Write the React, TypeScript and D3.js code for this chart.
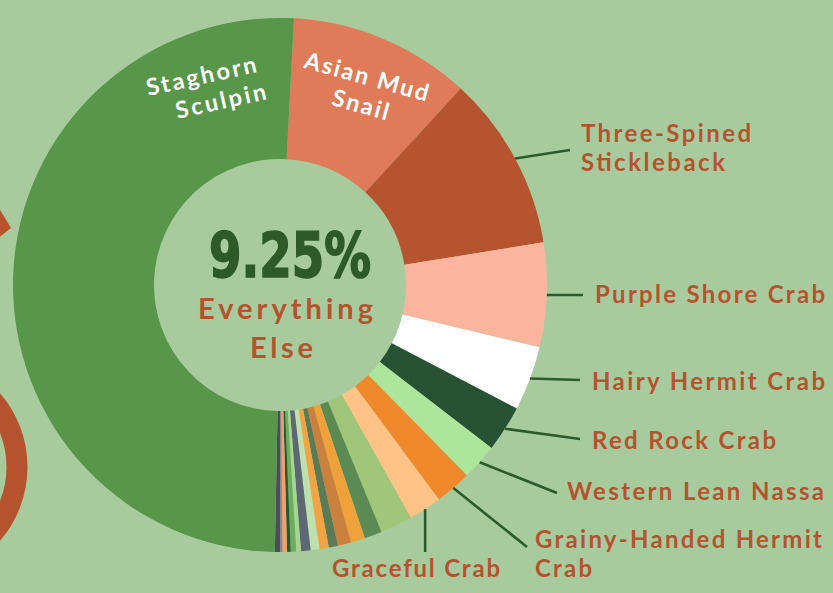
import React from "react";
import * as d3 from "d3";

// ---- data (percent of catch), clockwise from top ----
const species = [
  "Asian Mud Snail",
  "Three-Spined Stickleback",
  "Purple Shore Crab",
  "Hairy Hermit Crab",
  "Red Rock Crab",
  "Western Lean Nassa",
  "Grainy-Handed Hermit Crab",
  "Graceful Crab",
  "Other 1", "Other 2", "Other 3", "Other 4", "Other 5", "Other 6", "Other 7",
  "Other 8", "Other 9", "Other 10", "Other 11", "Other 12", "Other 13", "Other 14",
  "Staghorn Sculpin",
];
const shares = [
  11.0, 10.6, 6.3, 3.9, 2.8, 2.2, 2.2, 2.0,
  1.94, 1.06, 0.86, 0.8, 0.56, 0.56, 0.53, 0.58, 0.28, 0.33, 0.22, 0.28, 0.14, 0.31,
  50.5,
];
const colors = [
  "#e07b59", "#b5542f", "#fbb49d", "#ffffff", "#275234", "#ade59b", "#f0892b", "#ffc387",
  "#9fc679", "#5b8a52", "#efa23a", "#c9813d", "#5d7a57", "#f0a443", "#bde0ae", "#5d6874",
  "#a6d58f", "#6cae5e", "#275a30", "#f39e6b", "#8a8a8a", "#4d4b5c",
  "#58964a",
];

const centerValue = "9.25%";
const centerLines = ["Everything", "Else"];

// outer labels: which slice, text lines
const outerLabelSlices = [1, 2, 3, 4, 5, 6, 7];
const outerLabelLines = [
  ["Three-Spined", "Stickleback"],
  ["Purple Shore Crab"],
  ["Hairy Hermit Crab"],
  ["Red Rock Crab"],
  ["Western Lean Nassa"],
  ["Grainy-Handed Hermit", "Crab"],
  ["Graceful Crab"],
];
// inner labels
const innerLabelLines = [
  ["Staghorn", "Sculpin"],
  ["Asian Mud", "Snail"],
];

// ---- layout ----
const W = 833, H = 593;
const CX = 280, CY = 285, R = 267, RI = 126;
const START = (3 * Math.PI) / 180;
const BG = "#a8cb9d";
const RUST = "#b5532f";
const LINE = "#2b5a2c";

// leader end points and text anchors
const leaderEnds: [number, number][] = [
  [570, 150], [583, 295], [580, 380], [580, 439], [557, 493], [527, 547], [NaN, 552],
];
const textPos: { x: number; y: number; lens: number[] }[] = [
  { x: 581, y: 142, lens: [170, 144] },
  { x: 595, y: 303, lens: [230] },
  { x: 592, y: 390, lens: [233] },
  { x: 592, y: 449, lens: [184] },
  { x: 567, y: 500, lens: [257] },
  { x: 535, y: 548, lens: [287, 57] },
  { x: 332, y: 577, lens: [168] },
];
const innerPos = [
  { rot: -12.5, lines: [{ x: 203, y: 84, len: 112 }, { x: 222.5, y: 109, len: 92 }] },
  { rot: 15.5, lines: [{ x: 364.5, y: 84.5, len: 128 }, { x: 358.5, y: 112.5, len: 58 }] },
];

const LABEL_FONT = "Lato, 'Open Sans', sans-serif";

export default function App() {
  const pie = d3
    .pie<number>()
    .sort(null)
    .value((d) => d)
    .startAngle(START)
    .endAngle(START + 2 * Math.PI);
  const arcs = pie(shares);
  const arc = d3.arc<d3.PieArcDatum<number>>().innerRadius(RI).outerRadius(R);
  const rim = d3.arc<d3.PieArcDatum<number>>().innerRadius(R).outerRadius(R);

  return (
    <svg
      width={W}
      height={H}
      style={{ position: "absolute", left: 0, top: 0 }}
      xmlns="http://www.w3.org/2000/svg"
    >
      <rect x={0} y={0} width={W} height={H} fill={BG} />
      {/* decorative partial shapes at the left edge */}
      <polygon points="-4,203 11,228 -4,240" fill={RUST} />
      <circle cx={-85} cy={467} r={102} fill="none" stroke={RUST} strokeWidth={21} />

      <g transform={`translate(${CX},${CY})`}>
        {arcs.map((a, i) => (
          <path key={species[i]} d={arc(a) || ""} fill={colors[i]} />
        ))}
      </g>

      {/* leader lines */}
      {outerLabelSlices.map((si, k) => {
        const [sx, sy] = rim.centroid(arcs[si]);
        const x1 = CX + sx, y1 = CY + sy;
        const e = leaderEnds[k];
        const x2 = isNaN(e[0]) ? x1 : e[0];
        return (
          <line key={"l" + k} x1={x1} y1={y1} x2={x2} y2={e[1]} stroke={LINE} strokeWidth={2.6} />
        );
      })}

      {/* outer labels */}
      {outerLabelLines.map((lines, k) => (
        <g key={"t" + k}>
          {lines.map((ln, j) => (
            <text
              key={j}
              x={textPos[k].x}
              y={textPos[k].y + j * 29}
              fill={RUST}
              fontFamily={LABEL_FONT}
              fontWeight={700}
              fontSize={24}
              textLength={textPos[k].lens[j]}
              lengthAdjust="spacing"
            >
              {ln}
            </text>
          ))}
        </g>
      ))}

      {/* inner labels */}
      {innerLabelLines.map((lines, k) => (
        <g key={"i" + k}>
          {lines.map((ln, j) => {
            const p = innerPos[k].lines[j];
            return (
              <text
                key={j}
                x={p.x}
                y={p.y}
                transform={`rotate(${innerPos[k].rot},${p.x},${p.y})`}
                textAnchor="middle"
                fill="#ffffff"
                fontFamily={LABEL_FONT}
                fontWeight={700}
                fontSize={23.5}
                textLength={p.len}
                lengthAdjust="spacing"
              >
                {ln}
              </text>
            );
          })}
        </g>
      ))}

      {/* center text */}
      <text
        x={290}
        y={277}
        textAnchor="middle"
        fill="#2e5a28"
        stroke="#2e5a28"
        strokeWidth={1.6}
        fontFamily="'Liberation Sans Narrow', 'DejaVu Sans Condensed', sans-serif"
        fontWeight={700}
        fontSize={62}
        textLength={162}
        lengthAdjust="spacingAndGlyphs"
      >
        {centerValue}
      </text>
      <text
        x={285.5}
        y={319}
        textAnchor="middle"
        fill={RUST}
        fontFamily={LABEL_FONT}
        fontWeight={700}
        fontSize={29}
        textLength={175}
        lengthAdjust="spacing"
      >
        {centerLines[0]}
      </text>
      <text
        x={281.5}
        y={358}
        textAnchor="middle"
        fill={RUST}
        fontFamily={LABEL_FONT}
        fontWeight={700}
        fontSize={29}
        textLength={63}
        lengthAdjust="spacing"
      >
        {centerLines[1]}
      </text>
    </svg>
  );
}
